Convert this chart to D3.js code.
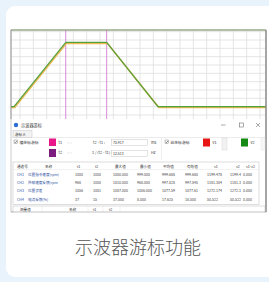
<!DOCTYPE html>
<html>
<head>
<meta charset="utf-8">
<script src="https://cdn.jsdelivr.net/npm/d3@7"></script>
<style>
  body { margin: 0; background: #e8f3fc; }
  svg { display: block; font-family: "Noto Sans CJK SC", "Noto Sans", sans-serif; }
</style>
</head>
<body>
<div id="chart"></div>
<script>
// waveform (time in ms, value in grid units)
const greenTime = [-6.75, -4.5, 34.3, 65, 103.5, 185.25];
const greenValue = [0, 0, 7.72, 7.72, 0, 0];
const yellowTime = [-6.75, -4.0, 34.8, 65.5, 104.0, 185.25];
const yellowValue = [-0.08, -0.08, 7.6, 7.6, -0.08, -0.08];
const cursorTimes = [34.3, 65];
const xTicks = d3.range(0, 190, 10);
const yTicks = d3.range(-1, 10, 1);

// table
const headers = ["通道号", "名称", "t1", "t2", "最大值", "最小值", "平均值", "有效值", "v1", "v2", "v1-v2"];
const channelIds = ["CH1", "CH2", "CH3", "CH4"];
const channelNames = ["位置指令速度(rpm)", "外部速度反馈(rpm", "位置误差", "电流反馈(%)"];
const t1Values = ["1000", "968", "1056", "37"];
const t2Values = ["1000", "1000", "1081", "15"];
const maxValues = ["1000.000", "1010.000", "1087.000", "37.000"];
const minValues = ["999.000", "968.000", "1056.000", "8.000"];
const avgValues = ["999.688", "997.828", "1077.59", "17.625"];
const rmsValues = ["999.680", "997.845", "1077.61", "18.500"];
const v1Values = ["1199.478", "1181.304", "1272.174", "50.522"];
const v2Values = ["1199.4", "1181.3", "1272.1", "50.522"];
const diffValues = ["0.000", "0.000", "0.000", "0.000"];
const bottomHeaders = ["测量值", "名称", "t1", "t2"];
const deltaT = "75.917";
const freq = "12.513";

const W = 269, H = 282;
const svg = d3.select("#chart").append("svg").attr("width", W).attr("height", H);

svg.append("rect").attr("width", W).attr("height", H).attr("fill", "#e8f3fc");
svg.append("rect").attr("x", 6).attr("y", 6).attr("width", 290).attr("height", 271)
  .attr("rx", 9).attr("fill", "#fff");

// screenshot frame
svg.append("rect").attr("x", 11).attr("y", 30).attr("width", 255).attr("height", 182)
  .attr("fill", "#fff").attr("stroke", "#a8a8a8").attr("stroke-width", 0.6);

const x = d3.scaleLinear().domain([-6.75, 185.25]).range([11, 267]);
const y = d3.scaleLinear().domain([-1.48, 9.2]).range([119, 30]);

svg.append("clipPath").attr("id", "plotclip")
  .append("rect").attr("x", 11).attr("y", 30).attr("width", 255).attr("height", 89);

const plot = svg.append("g").attr("clip-path", "url(#plotclip)");

plot.selectAll(".gx").data(xTicks).enter().append("line")
  .attr("x1", d => x(d)).attr("x2", d => x(d)).attr("y1", 30).attr("y2", 119)
  .attr("stroke", "#dedede").attr("stroke-width", 0.8);
plot.selectAll(".gy").data(yTicks).enter().append("line")
  .attr("x1", 11).attr("x2", 267).attr("y1", d => y(d)).attr("y2", d => y(d))
  .attr("stroke", "#dedede").attr("stroke-width", 0.8);

// cursors
plot.selectAll(".cur").data(cursorTimes).enter().append("line")
  .attr("x1", d => x(d)).attr("x2", d => x(d)).attr("y1", 30).attr("y2", 119)
  .attr("stroke", "#d98ad9").attr("stroke-width", 1);

const line = d3.line().x(d => x(d[0])).y(d => y(d[1]));
plot.append("path").attr("d", line(d3.zip(yellowTime, yellowValue)))
  .attr("fill", "none").attr("stroke", "#eab850").attr("stroke-width", 1.6);
plot.append("path").attr("d", line(d3.zip(greenTime, greenValue)))
  .attr("fill", "none").attr("stroke", "#55a042").attr("stroke-width", 1.2);

// borders of the plot
svg.append("line").attr("x1", 11).attr("x2", 266).attr("y1", 30).attr("y2", 30)
  .attr("stroke", "#7d9866").attr("stroke-width", 1);
svg.append("line").attr("x1", 11).attr("x2", 11).attr("y1", 30).attr("y2", 119)
  .attr("stroke", "#8a8a8a").attr("stroke-width", 0.8);
svg.append("line").attr("x1", 266).attr("x2", 266).attr("y1", 30).attr("y2", 212)
  .attr("stroke", "#8a8a8a").attr("stroke-width", 1.4);

// dialog
const dlg = svg.append("g");
const fs = 3.8;
function txt(g, tx, ty, s, opts = {}) {
  return g.append("text").attr("x", tx).attr("y", ty).text(s)
    .attr("font-size", opts.size || fs).attr("fill", opts.fill || "#333")
    .attr("text-anchor", opts.anchor || "start");
}

dlg.append("circle").attr("cx", 16).attr("cy", 125).attr("r", 2.2).attr("fill", "#2c6fd2");
txt(dlg, 21, 126.5, "示波器游标", { size: 4.2 });
dlg.append("line").attr("x1", 221).attr("x2", 225.5).attr("y1", 125).attr("y2", 125)
  .attr("stroke", "#555").attr("stroke-width", 0.5);
dlg.append("rect").attr("x", 239.5).attr("y", 123).attr("width", 4).attr("height", 4)
  .attr("fill", "none").attr("stroke", "#555").attr("stroke-width", 0.5);
dlg.append("path").attr("d", "M256,123L260,127M260,123L256,127")
  .attr("stroke", "#555").attr("stroke-width", 0.5);

dlg.append("rect").attr("x", 13).attr("y", 130.5).attr("width", 19).attr("height", 7)
  .attr("fill", "#f3f3f3").attr("stroke", "#bbb").attr("stroke-width", 0.4);
txt(dlg, 15, 135.5, "游标 A", { size: 3.6 });
dlg.append("line").attr("x1", 12).attr("x2", 265).attr("y1", 137.5).attr("y2", 137.5)
  .attr("stroke", "#d0d0d0").attr("stroke-width", 0.4);

function checkbox(g, cx, cy) {
  g.append("rect").attr("x", cx).attr("y", cy).attr("width", 3.6).attr("height", 3.6)
    .attr("fill", "#fff").attr("stroke", "#666").attr("stroke-width", 0.4);
  g.append("path").attr("d", `M${cx + 0.7},${cy + 1.9}L${cx + 1.5},${cy + 2.8}L${cx + 3},${cy + 0.8}`)
    .attr("fill", "none").attr("stroke", "#222").attr("stroke-width", 0.5);
}
function spinner(g, sx, sy) {
  txt(g, sx, sy, "<  >", { fill: "#bbb", size: 3.4 });
}

checkbox(dlg, 14, 140);
txt(dlg, 19.5, 143.5, "横坐标游标");
dlg.append("rect").attr("x", 49).attr("y", 138.5).attr("width", 7).attr("height", 7.5).attr("fill", "#e8178a");
txt(dlg, 58.5, 143.5, "t1");
spinner(dlg, 67, 143.5);
txt(dlg, 93, 143.5, "t2 - t1 :");
dlg.append("rect").attr("x", 111.5).attr("y", 139.5).attr("width", 36).attr("height", 6)
  .attr("fill", "#fff").attr("stroke", "#bbb").attr("stroke-width", 0.4);
txt(dlg, 113, 143.8, deltaT, { size: 3.5 });
txt(dlg, 151, 143.5, "ms");

dlg.append("rect").attr("x", 49).attr("y", 149).attr("width", 7).attr("height", 8).attr("fill", "#7b1c7e");
txt(dlg, 58.5, 154.3, "t2");
spinner(dlg, 67, 154.3);
txt(dlg, 92, 154.3, "1 / (t2 - t1) :");
dlg.append("rect").attr("x", 111.5).attr("y", 150.5).attr("width", 36).attr("height", 6)
  .attr("fill", "#fff").attr("stroke", "#bbb").attr("stroke-width", 0.4);
txt(dlg, 113, 154.8, freq, { size: 3.5 });
txt(dlg, 151, 154.3, "Hz");

dlg.append("line").attr("x1", 161.5).attr("x2", 161.5).attr("y1", 138).attr("y2", 160)
  .attr("stroke", "#ddd").attr("stroke-width", 0.5);
checkbox(dlg, 165, 140);
txt(dlg, 170.5, 143.5, "纵坐标游标");
dlg.append("rect").attr("x", 203).attr("y", 138.5).attr("width", 7).attr("height", 8).attr("fill", "#e81515");
txt(dlg, 212.5, 143.8, "v1");
dlg.append("rect").attr("x", 222).attr("y", 138).attr("width", 5).attr("height", 12)
  .attr("fill", "#f2f2f2").attr("stroke", "#d0d0d0").attr("stroke-width", 0.4);
dlg.append("rect").attr("x", 241).attr("y", 138.5).attr("width", 7).attr("height", 8).attr("fill", "#148a14");
txt(dlg, 250.5, 143.8, "v2");
dlg.append("rect").attr("x", 261).attr("y", 138).attr("width", 4).attr("height", 12)
  .attr("fill", "#f7f7f7").attr("stroke", "#e0e0e0").attr("stroke-width", 0.4);

// table
const colX = [17, 28, 75, 93, 113, 137, 162, 185, 207, 230, 243];
const headX = [17, 45, 77, 95, 115, 140, 163, 187, 214, 236, 246];
const rowY = d3.scalePoint().domain(channelIds).range([175.5, 200.5]);

dlg.append("rect").attr("x", 13).attr("y", 162).attr("width", 246).attr("height", 42.5)
  .attr("fill", "#fff").attr("stroke", "#bbb").attr("stroke-width", 0.5);
dlg.append("line").attr("x1", 13).attr("x2", 259).attr("y1", 169.5).attr("y2", 169.5)
  .attr("stroke", "#ddd").attr("stroke-width", 0.4);
headers.forEach((h, i) => txt(dlg, headX[i], 167.5, h, { size: 3.6 }));

const rows = channelIds.map((id, i) => [id, channelNames[i], t1Values[i], t2Values[i], maxValues[i],
  minValues[i], avgValues[i], rmsValues[i], v1Values[i], v2Values[i], diffValues[i]]);
rows.forEach((r, i) => {
  r.forEach((cell, j) => {
    txt(dlg, colX[j], rowY(channelIds[i]), cell,
      { size: 3.6, fill: j < 2 ? "#2a4c9c" : "#444" });
  });
});

// lower table (cut off)
dlg.append("rect").attr("x", 13).attr("y", 206).attr("width", 252).attr("height", 8)
  .attr("fill", "#fff").attr("stroke", "#bbb").attr("stroke-width", 0.5);
[42, 88, 103, 120].forEach(sx => dlg.append("line").attr("x1", sx).attr("x2", sx)
  .attr("y1", 206).attr("y2", 212).attr("stroke", "#ddd").attr("stroke-width", 0.4));
const bottomX = [20, 69, 93, 109];
bottomHeaders.forEach((h, i) => txt(dlg, bottomX[i], 210.5, h, { size: 3.6 }));

// cover below screenshot
svg.append("rect").attr("x", 7).attr("y", 212.5).attr("width", 262).attr("height", 8).attr("fill", "#fff");
svg.append("line").attr("x1", 11).attr("x2", 266).attr("y1", 212).attr("y2", 212)
  .attr("stroke", "#a8a8a8").attr("stroke-width", 0.7);

svg.append("text").attr("x", 138).attr("y", 253.5).attr("text-anchor", "middle")
  .attr("font-size", 18).attr("font-weight", 300).attr("fill", "#555").text("示波器游标功能");
</script>
</body>
</html>
